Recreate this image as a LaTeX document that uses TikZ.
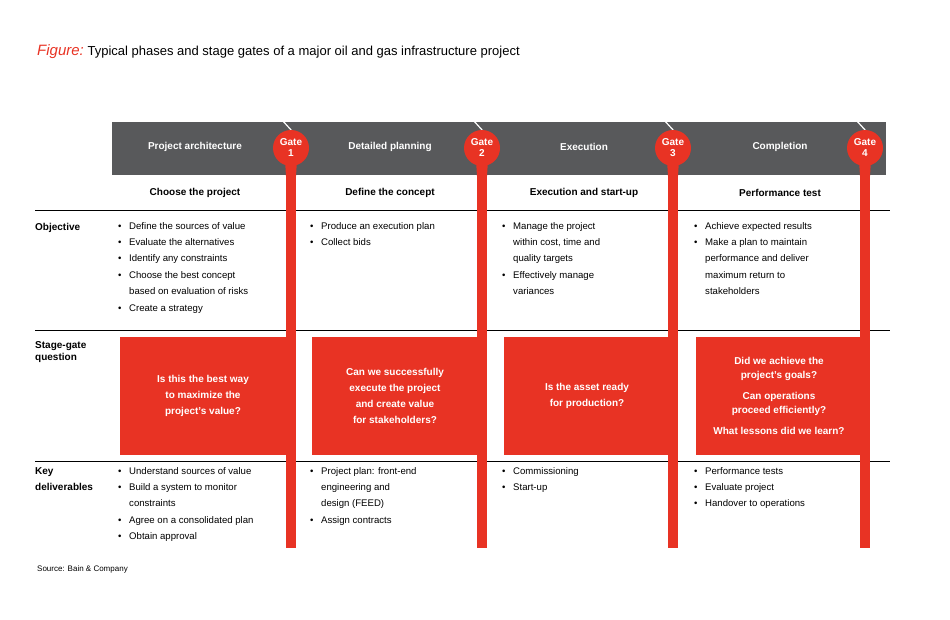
\documentclass[tikz,border=0pt]{standalone}
\usepackage{fontspec}
\setmainfont{Liberation Sans}
\usetikzlibrary{positioning}
\definecolor{Bain-R}{RGB}{232, 51, 36}
\definecolor{Bain-G}{RGB}{88, 89, 91}
\newcommand{\bl}[1]{\makebox[11pt][l]{\textbullet}#1}
\newcommand{\cn}[1]{\hspace*{11pt}#1}

\begin{document}
\begin{tikzpicture}[x=1pt, y=-1pt,
    phase/.style={font=\bfseries\fontsize{10}{12}\selectfont, text=white},
    sub/.style={font=\bfseries\fontsize{10}{12}\selectfont},
    rowlabel/.style={font=\bfseries\fontsize{10}{12}\selectfont, anchor=north west, align=left, inner sep=0pt},
    items/.style={font=\fontsize{9.6}{16.4}\selectfont, anchor=north west, align=left, inner sep=0pt},
    question/.style={fill=Bain-R, text=white, font=\bfseries\fontsize{10}{16}\selectfont, align=center, minimum width=166pt, minimum height=118pt, inner sep=0pt},
    gate/.style={circle, fill=Bain-R, text=white, minimum size=36pt, inner sep=0pt, align=center, font=\bfseries\fontsize{10}{11}\selectfont}]

    \useasboundingbox (0,0) rectangle (950,619);

    \node[anchor=west, inner sep=0pt] (title) at (37,52) {{\color{Bain-R}\itshape\fontsize{15}{17}\selectfont Figure:} \fontsize{13}{15}\selectfont Typical phases and stage gates of a major oil and gas infrastructure project};

    % header band
    \fill[Bain-G] (112,122) rectangle (886,175);
    \draw (35,210) -- (890,210);
    \draw (35,330) -- (890,330);
    \draw (35,461) -- (890,461);

    % phases
    \node[phase] (ph1) at (195,147) {Project architecture};
    \node[phase] (ph2) at (390,147) {Detailed planning};
    \node[phase] (ph3) at (584,147) {Execution};
    \node[phase] (ph4) at (780,147) {Completion};

    \node[sub] (s1) at (195,193) {Choose the project};
    \node[sub] (s2) at (390,193) {Define the concept};
    \node[sub] (s3) at (584,193) {Execution and start-up};
    \node[sub] (s4) at (780,193) {Performance test};

    % row labels
    \node[rowlabel] (obj) at (35,223) {Objective};
    \node[rowlabel, font=\bfseries\fontsize{10}{12.5}\selectfont] (sgq) at (35,341) {Stage-gate\\question};
    \node[rowlabel, font=\bfseries\fontsize{10}{16.5}\selectfont] (kd) at (35,467) {Key\\deliverables};

    % question boxes
    \node[question] (q1) at (203,396) {Is this the best way\\to maximize the\\project's value?};
    \node[question] (q2) at (395,396) {Can we successfully\\execute the project\\and create value\\for stakeholders?};
    \node[question] (q3) at (587,396) {Is the asset ready\\for production?};
    \node[question, font=\bfseries\fontsize{10}{14}\selectfont] (q4) at (779,396) {Did we achieve the\\project's goals?\\[7pt]Can operations\\proceed efficiently?\\[7pt]What lessons did we learn?};

    % gates
    \foreach \x/\n in {291/1, 482/2, 673/3, 865/4} {
        \fill[Bain-R] (\x-5,168) rectangle (\x+5,548);
        \draw[white, line width=1.2pt] (\x-9,120) -- (\x+1,131);
        \node[gate] (gate\n) at (\x,148) {Gate\\\n};
        \fill[Bain-R] (\x-6,160) -- (\x+6,160) -- (\x+5,176) -- (\x-5,176) -- cycle;
    }

    % objectives
    \node[items] (o1) at (118,222) {\bl{Define the sources of value}\\\bl{Evaluate the alternatives}\\\bl{Identify any constraints}\\\bl{Choose the best concept}\\\cn{based on evaluation of risks}\\\bl{Create a strategy}};
    \node[items] (o2) at (310,222) {\bl{Produce an execution plan}\\\bl{Collect bids}};
    \node[items] (o3) at (502,222) {\bl{Manage the project}\\\cn{within cost, time and}\\\cn{quality targets}\\\bl{Effectively manage}\\\cn{variances}};
    \node[items] (o4) at (694,222) {\bl{Achieve expected results}\\\bl{Make a plan to maintain}\\\cn{performance and deliver}\\\cn{maximum return to}\\\cn{stakeholders}};

    % deliverables
    \node[items] (d1) at (118,467) {\bl{Understand sources of value}\\\bl{Build a system to monitor}\\\cn{constraints}\\\bl{Agree on a consolidated plan}\\\bl{Obtain approval}};
    \node[items] (d2) at (310,467) {\bl{Project plan: front-end}\\\cn{engineering and}\\\cn{design (FEED)}\\\bl{Assign contracts}};
    \node[items] (d3) at (502,467) {\bl{Commissioning}\\\bl{Start-up}};
    \node[items] (d4) at (694,467) {\bl{Performance tests}\\\bl{Evaluate project}\\\bl{Handover to operations}};

    \node[anchor=west, inner sep=0pt, font=\fontsize{8}{10}\selectfont] (src) at (37,569) {Source: Bain \& Company};

\end{tikzpicture}
\end{document}
